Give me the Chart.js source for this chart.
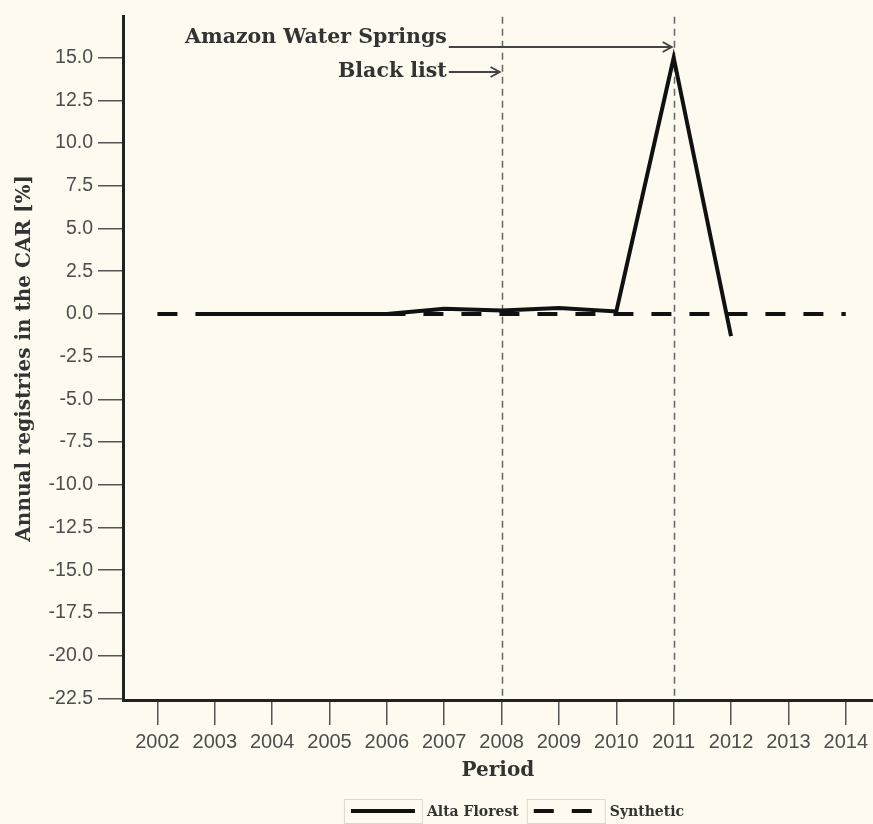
<!DOCTYPE html>
<html>
<head>
<meta charset="utf-8">
<script src="https://cdn.jsdelivr.net/npm/chart.js@4.4.1/dist/chart.umd.min.js"></script>
<style>
    html, body { margin: 0; padding: 0; background: #fefaf0; }
    #wrap { width: 873px; height: 824px; }
</style>
</head>
<body>
<div id="wrap"><canvas id="myChart" width="873" height="824"></canvas></div>
<script>
// Data
const years = [2002, 2003, 2004, 2005, 2006, 2007, 2008, 2009, 2010, 2011, 2012, 2013, 2014];
const altaFlorest = [null, 0, 0, 0, 0, 0.3, 0.2, 0.35, 0.15, 15.0, -1.3, null, null];
const synthetic = [0, 0, 0, 0, 0, 0, 0, 0, 0, 0, 0, 0, 0];
const yTicks = [15, 12.5, 10, 7.5, 5, 2.5, 0, -2.5, -5, -7.5, -10, -12.5, -15, -17.5, -20, -22.5];

// Event markers and their labels
const markerYears = [2008, 2011];
const noteLabels = ['Amazon Water Springs', 'Black list'];
const noteTargets = [2011, 2008];
const noteValues = [15.65, 14.15];
const noteTailYear = 2007.08;

const SERIF = '"DejaVu Serif", serif';
const SANS = '"Liberation Sans", Arial, sans-serif';
const TEXT = '#333333';

function toPoints(values) {
    return years.map((y, i) => ({ x: y, y: values[i] }));
}

// Dashed vertical lines at the event years
const markerPlugin = {
    id: 'markers',
    beforeDatasetsDraw(chart) {
        const { ctx, chartArea, scales } = chart;
        ctx.save();
        ctx.strokeStyle = '#666';
        ctx.lineWidth = 1.5;
        ctx.setLineDash([7, 5]);
        markerYears.forEach(yr => {
            const x = Math.round(scales.x.getPixelForValue(yr)) + 0.5;
            ctx.beginPath();
            ctx.moveTo(x, chartArea.top);
            ctx.lineTo(x, chartArea.bottom);
            ctx.stroke();
        });
        ctx.restore();
    }
};

// Text labels with arrows
const notePlugin = {
    id: 'notes',
    afterDraw(chart) {
        const { ctx, scales } = chart;
        const x0 = scales.x.getPixelForValue(noteTailYear);
        ctx.save();
        ctx.font = 'bold 20.5px ' + SERIF;
        ctx.fillStyle = TEXT;
        ctx.strokeStyle = '#444';
        ctx.lineWidth = 2;
        ctx.textAlign = 'right';
        ctx.textBaseline = 'middle';
        noteLabels.forEach((label, i) => {
            const y = Math.round(scales.y.getPixelForValue(noteValues[i]));
            const x1 = scales.x.getPixelForValue(noteTargets[i]) - 2;
            ctx.fillText(label, x0 - 2, i === 0 ? y - 9 : y);
            ctx.beginPath();
            ctx.moveTo(x0, y);
            ctx.lineTo(x1, y);
            ctx.moveTo(x1 - 9, y - 5);
            ctx.lineTo(x1, y);
            ctx.lineTo(x1 - 9, y + 5);
            ctx.stroke();
        });
        ctx.restore();
    }
};

// Boxed legend at the bottom
const legendPlugin = {
    id: 'boxLegend',
    afterDraw(chart) {
        const { ctx } = chart;
        const sets = chart.data.datasets;
        const boxW = 78, boxH = 24, gap = 5, after = 8;
        ctx.save();
        ctx.font = 'bold 14px ' + SERIF;
        const widths = sets.map(ds => boxW + gap + ctx.measureText(ds.label).width);
        const total = widths.reduce((a, b) => a + b, 0) + after * (sets.length - 1);
        let x = 514 - total / 2;
        const top = 799;
        const mid = top + boxH / 2;
        sets.forEach((ds, i) => {
            ctx.strokeStyle = '#dcd8cf';
            ctx.lineWidth = 1;
            ctx.setLineDash([]);
            ctx.strokeRect(x + 0.5, top + 0.5, boxW, boxH);
            ctx.strokeStyle = '#111';
            ctx.lineWidth = 4;
            ctx.setLineDash(ds.borderDash || []);
            ctx.beginPath();
            ctx.moveTo(x + 7, mid);
            ctx.lineTo(x + boxW - 7, mid);
            ctx.stroke();
            ctx.fillStyle = TEXT;
            ctx.textAlign = 'left';
            ctx.textBaseline = 'middle';
            ctx.fillText(ds.label, x + boxW + gap, mid + 1);
            x += widths[i] + after;
        });
        ctx.restore();
    }
};

const ctx = document.getElementById('myChart').getContext('2d');
const myChart = new Chart(ctx, {
    type: 'line',
    data: {
        datasets: [
            {
                label: 'Alta Florest',
                data: toPoints(altaFlorest),
                borderColor: '#111',
                borderWidth: 4,
                pointRadius: 0,
                tension: 0,
                spanGaps: false
            },
            {
                label: 'Synthetic',
                data: toPoints(synthetic),
                borderColor: '#111',
                borderWidth: 4,
                borderDash: [20, 18],
                pointRadius: 0,
                tension: 0
            }
        ]
    },
    options: {
        responsive: false,
        devicePixelRatio: 1,
        animation: false,
        layout: { padding: { top: 12, bottom: 40, left: 0, right: 0 } },
        plugins: {
            legend: { display: false },
            tooltip: { enabled: false }
        },
        scales: {
            x: {
                type: 'linear',
                min: 2001.4,
                max: 2014.47,
                afterBuildTicks: s => { s.ticks = years.map(v => ({ value: v })); },
                afterFit: s => { s.height = 84; },
                grid: { drawOnChartArea: false, tickLength: 25, color: '#555', lineWidth: 1.5 },
                border: { color: '#222', width: 3 },
                ticks: {
                    color: '#4d4d4d',
                    font: { family: SANS, size: 20 },
                    padding: 5,
                    maxRotation: 0,
                    autoSkip: false,
                    callback: v => String(v)
                },
                title: {
                    display: true,
                    text: 'Period',
                    color: TEXT,
                    font: { family: SERIF, size: 20, weight: 'bold' },
                    padding: { top: 0, bottom: 1 }
                }
            },
            y: {
                min: -22.6,
                max: 17.4,
                afterBuildTicks: s => { s.ticks = yTicks.map(v => ({ value: v })); },
                afterFit: s => { s.width = 123; },
                grid: { drawOnChartArea: false, tickLength: 25, color: '#555', lineWidth: 1.5 },
                border: { color: '#222', width: 3 },
                ticks: {
                    color: '#4d4d4d',
                    font: { family: SANS, size: 19.5 },
                    padding: 5,
                    callback: v => v.toFixed(1)
                },
                title: {
                    display: true,
                    text: 'Annual registries in the CAR [%]',
                    color: TEXT,
                    font: { family: SERIF, size: 20, weight: 'bold' },
                    padding: { top: 13, bottom: 0 }
                }
            }
        }
    },
    plugins: [markerPlugin, notePlugin, legendPlugin]
});
</script>
</body>
</html>
